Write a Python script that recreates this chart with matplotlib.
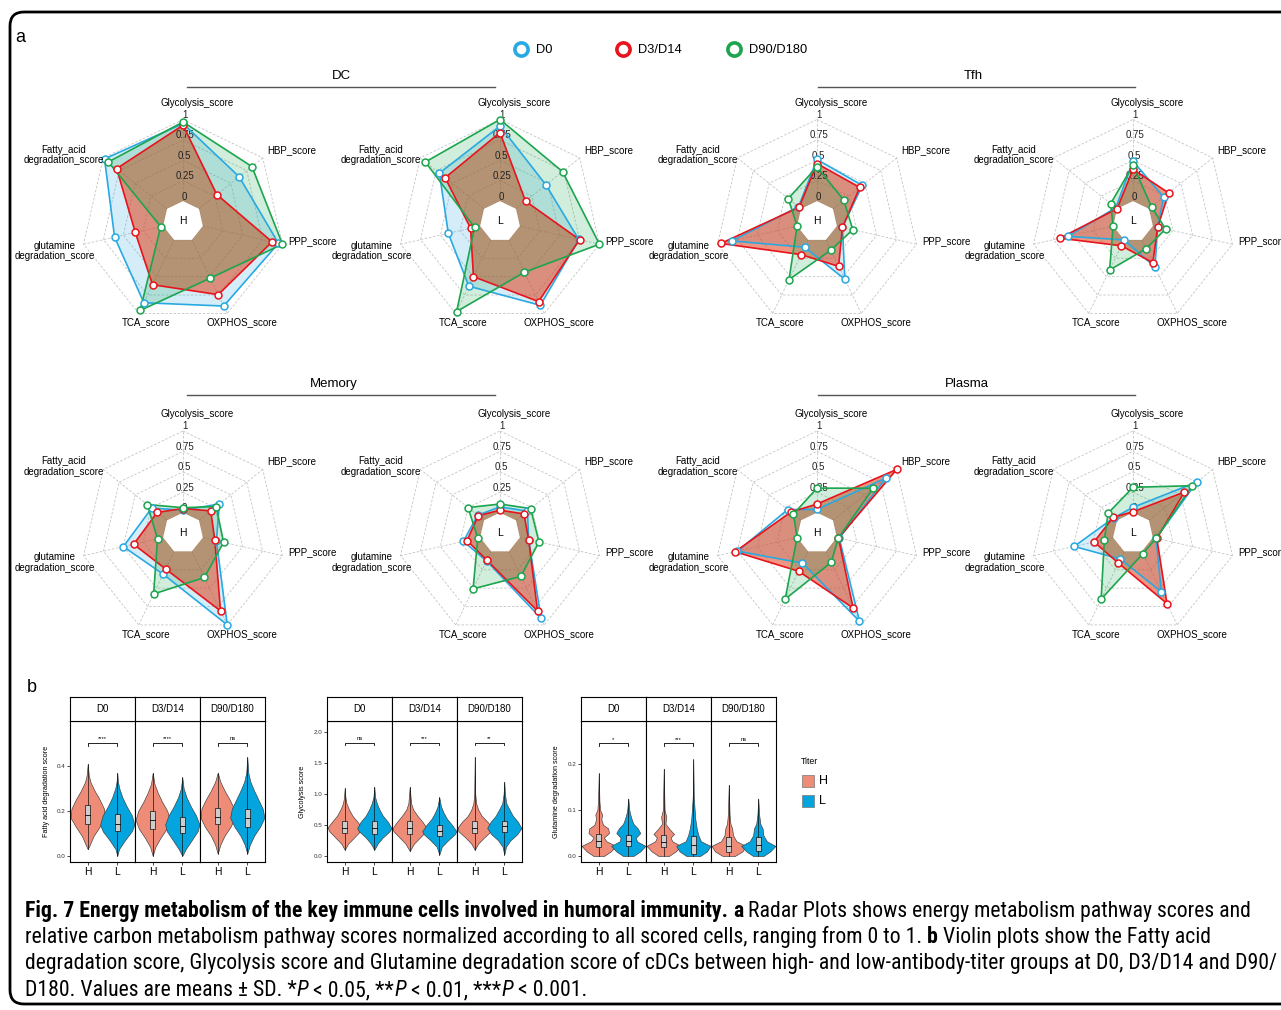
import numpy as np
import matplotlib
matplotlib.use('Agg')
import matplotlib.pyplot as plt
from matplotlib import font_manager
from matplotlib.patches import FancyBboxPatch, Rectangle

# ---------------- data ----------------
radar_labels = ['Glycolysis_score', 'HBP_score', 'PPP_score', 'OXPHOS_score',
                'TCA_score', 'glutamine\ndegradation_score', 'Fatty_acid\ndegradation_score']
series_names = ['D0', 'D3/D14', 'D90/D180']
ring_labels = ['0', '0.25', '0.5', '0.75', '1']

# order of values: Glycolysis, HBP, PPP, OXPHOS, TCA, glutamine, Fatty_acid
dc_h = [[0.95, 0.63, 0.95, 0.90, 0.855, 0.61, 0.98],
        [0.93, 0.28, 0.87, 0.745, 0.61, 0.35, 0.79],
        [0.97, 0.83, 1.00, 0.52, 0.96, 0.03, 0.92]]
dc_l = [[0.92, 0.47, 0.74, 0.89, 0.63, 0.40, 0.70],
        [0.84, 0.15, 0.75, 0.84, 0.50, 0.12, 0.61],
        [1.00, 0.73, 1.00, 0.44, 0.975, 0.07, 0.92]]
tfh_h = [[0.51, 0.46, 0.07, 0.535, 0.10, 0.82, 0.04],
         [0.46, 0.42, 0.07, 0.36, 0.20, 0.96, 0.03],
         [0.42, 0.17, 0.20, 0.14, 0.54, 0.00, 0.20]]
tfh_l = [[0.49, 0.23, 0.06, 0.37, 0.00, 0.57, 0.02],
         [0.39, 0.31, 0.06, 0.31, 0.08, 0.67, 0.00],
         [0.44, 0.04, 0.16, 0.12, 0.41, 0.00, 0.10]]
mem_h = [[0.03, 0.32, 0.17, 1.00, 0.31, 0.50, 0.24],
         [0.05, 0.185, 0.15, 0.81, 0.24, 0.37, 0.155],
         [0.06, 0.27, 0.26, 0.355, 0.58, 0.07, 0.31]]
mem_l = [[0.07, 0.18, 0.11, 0.91, 0.13, 0.21, 0.10],
         [0.03, 0.125, 0.11, 0.81, 0.12, 0.165, 0.09],
         [0.105, 0.23, 0.24, 0.34, 0.51, 0.03, 0.25]]
pla_h = [[0.04, 0.83, 0.03, 0.95, 0.16, 0.75, 0.21],
         [0.105, 1.00, 0.02, 0.77, 0.27, 0.78, 0.16],
         [0.30, 0.63, 0.02, 0.15, 0.65, 0.00, 0.12]]
pla_l = [[0.065, 0.75, 0.04, 0.55, 0.105, 0.49, 0.05],
         [0.01, 0.555, 0.05, 0.71, 0.16, 0.24, 0.06],
         [0.31, 0.68, 0.04, 0.03, 0.65, 0.11, 0.14]]

# violin panels: groups, titer levels
facet_names = ['D0', 'D3/D14', 'D90/D180']
titer = ['H', 'L']

# each violin: profile levels (score) and relative half widths; order D0-H, D0-L, D3-H, D3-L, D90-H, D90-L
fa_prof_y = [[0.03, 0.05, 0.09, 0.13, 0.17, 0.21, 0.25, 0.29, 0.33, 0.36, 0.41],
             [0.00, 0.03, 0.07, 0.11, 0.14, 0.18, 0.22, 0.26, 0.30, 0.33, 0.37],
             [0.00, 0.04, 0.08, 0.12, 0.16, 0.20, 0.24, 0.28, 0.32, 0.37],
             [0.00, 0.03, 0.07, 0.11, 0.14, 0.18, 0.22, 0.26, 0.30, 0.35],
             [0.01, 0.05, 0.09, 0.13, 0.17, 0.21, 0.25, 0.29, 0.33, 0.37],
             [0.01, 0.05, 0.09, 0.13, 0.17, 0.21, 0.25, 0.29, 0.33, 0.37, 0.44]]
fa_prof_w = [[0.0, 0.12, 0.35, 0.70, 1.0, 0.95, 0.70, 0.40, 0.15, 0.06, 0.0],
             [0.0, 0.10, 0.45, 0.85, 1.0, 0.85, 0.55, 0.30, 0.12, 0.04, 0.0],
             [0.0, 0.15, 0.45, 0.80, 1.0, 0.85, 0.55, 0.30, 0.10, 0.0],
             [0.0, 0.20, 0.55, 0.90, 1.0, 0.80, 0.50, 0.25, 0.08, 0.0],
             [0.0, 0.15, 0.40, 0.75, 1.0, 0.95, 0.70, 0.40, 0.15, 0.0],
             [0.0, 0.15, 0.40, 0.75, 1.0, 0.90, 0.65, 0.40, 0.18, 0.06, 0.0]]
# box: q1, median, q3, low, high
fa_box = [[0.14, 0.18, 0.225, 0.03, 0.41],
          [0.11, 0.14, 0.185, 0.00, 0.37],
          [0.12, 0.16, 0.20, 0.00, 0.37],
          [0.10, 0.135, 0.175, 0.00, 0.35],
          [0.14, 0.175, 0.215, 0.01, 0.37],
          [0.13, 0.17, 0.21, 0.01, 0.44]]
fa_sig = ['****', '****', 'ns']

gl_prof_y = [[0.10, 0.20, 0.30, 0.40, 0.46, 0.55, 0.65, 0.75, 0.85, 0.95, 1.10],
             [0.10, 0.20, 0.30, 0.40, 0.45, 0.55, 0.65, 0.75, 0.85, 0.95, 1.12],
             [0.08, 0.20, 0.30, 0.40, 0.45, 0.55, 0.65, 0.75, 0.85, 1.12],
             [0.02, 0.15, 0.25, 0.35, 0.40, 0.50, 0.60, 0.70, 0.80, 0.95],
             [0.10, 0.20, 0.30, 0.40, 0.46, 0.55, 0.65, 0.75, 0.85, 1.00, 1.60],
             [0.02, 0.15, 0.25, 0.35, 0.45, 0.55, 0.65, 0.75, 0.85, 1.00, 1.20]]
gl_prof_w = [[0.0, 0.20, 0.55, 0.90, 1.0, 0.75, 0.45, 0.25, 0.10, 0.04, 0.0],
             [0.0, 0.20, 0.50, 0.90, 1.0, 0.80, 0.50, 0.30, 0.15, 0.05, 0.0],
             [0.0, 0.25, 0.60, 0.95, 1.0, 0.75, 0.45, 0.20, 0.08, 0.0],
             [0.0, 0.15, 0.50, 0.90, 1.0, 0.75, 0.45, 0.25, 0.10, 0.0],
             [0.0, 0.20, 0.55, 0.95, 1.0, 0.75, 0.40, 0.20, 0.08, 0.03, 0.0],
             [0.0, 0.10, 0.35, 0.75, 1.0, 0.80, 0.50, 0.30, 0.12, 0.04, 0.0]]
gl_box = [[0.37, 0.46, 0.56, 0.10, 1.10],
          [0.35, 0.45, 0.56, 0.10, 1.12],
          [0.36, 0.45, 0.56, 0.08, 1.12],
          [0.33, 0.41, 0.50, 0.02, 0.95],
          [0.37, 0.46, 0.56, 0.10, 1.60],
          [0.38, 0.48, 0.57, 0.02, 1.20]]
gl_sig = ['ns', '***', '**']

gn_prof_y = [[0.0, 0.01, 0.022, 0.032, 0.04, 0.05, 0.06, 0.068, 0.08, 0.09, 0.10, 0.12, 0.18],
             [0.0, 0.01, 0.022, 0.032, 0.04, 0.05, 0.06, 0.07, 0.08, 0.09, 0.10, 0.125],
             [0.0, 0.01, 0.022, 0.032, 0.04, 0.048, 0.058, 0.07, 0.085, 0.10, 0.19],
             [0.0, 0.01, 0.022, 0.032, 0.045, 0.06, 0.08, 0.10, 0.13, 0.21],
             [0.0, 0.01, 0.022, 0.032, 0.045, 0.06, 0.07, 0.09, 0.155],
             [0.0, 0.01, 0.022, 0.032, 0.045, 0.06, 0.07, 0.09, 0.125]]
gn_prof_w = [[0.30, 0.70, 1.0, 0.45, 0.30, 0.60, 0.55, 0.25, 0.15, 0.20, 0.08, 0.04, 0.0],
             [0.30, 0.70, 1.0, 0.50, 0.45, 0.70, 0.55, 0.30, 0.20, 0.12, 0.06, 0.0],
             [0.30, 0.70, 1.0, 0.50, 0.40, 0.60, 0.35, 0.10, 0.15, 0.05, 0.0],
             [0.40, 0.80, 1.0, 0.45, 0.30, 0.20, 0.12, 0.08, 0.03, 0.0],
             [0.35, 0.80, 1.0, 0.45, 0.25, 0.20, 0.10, 0.05, 0.0],
             [0.30, 0.70, 1.0, 0.50, 0.30, 0.25, 0.12, 0.05, 0.0]]
gn_box = [[0.020, 0.032, 0.047, 0.0, 0.18],
          [0.022, 0.033, 0.046, 0.0, 0.125],
          [0.020, 0.030, 0.045, 0.0, 0.19],
          [0.005, 0.023, 0.043, 0.0, 0.21],
          [0.008, 0.022, 0.042, 0.0, 0.155],
          [0.010, 0.023, 0.042, 0.0, 0.125]]
gn_sig = ['*', '***', 'ns']

# ---------------- style ----------------
W, H = 1281, 1010
BLUE, RED, GREEN = '#29A9E1', '#E8141C', '#1CA54E'
series_colors = [BLUE, RED, GREEN]
fill_colors = [BLUE, '#E0401A', GREEN]
series_alpha = [0.2, 0.55, 0.2]
COL_H, COL_L = '#EF8C78', '#04A4DE'

plt.rcParams['font.family'] = ['Liberation Sans', 'DejaVu Sans']
fig = plt.figure(figsize=(W / 100, H / 100), dpi=100)

ov = fig.add_axes([0, 0, 1, 1])
ov.set_xlim(0, W)
ov.set_ylim(H, 0)
ov.axis('off')

# outer frame
ov.add_patch(FancyBboxPatch((10, 12), 1400, 992, boxstyle='round,pad=0,rounding_size=14',
                            lw=2.0, ec='black', fc='none'))
ov.text(15, 37, 'a', fontsize=13, va='center', ha='left')
ov.text(27, 688, 'b', fontsize=13, va='center', ha='left')

# legend of radar plots
for x, c, name in zip([521, 623, 734], series_colors, series_names):
    ov.plot([x], [49], marker='o', ms=9.5, mfc='white', mec=c, mew=2.6, ls='none')
    ov.text(x + 15, 50, name, fontsize=9.3, va='center', ha='left')

# group titles
for name, tx, ty, x0, x1 in [('DC', 341, 76, 187, 495), ('Tfh', 973, 76, 818, 1135),
                             ('Memory', 334, 384, 187, 495), ('Plasma', 967, 384, 818, 1135)]:
    ov.text(tx, ty, name, fontsize=9.5, ha='center', va='center')
    ov.plot([x0, x1], [ty + 11, ty + 11], color='#555555', lw=1.0)

# ---------------- radar plots ----------------
R = 102.0
n_ax = len(radar_labels)
theta = np.arange(n_ax) * 2 * np.pi / n_ax
label_off = [(0.134, 1.162), (1.07, 0.70), (1.27, -0.19), (0.575, -0.99),
             (-0.363, -0.99), (-1.255, -0.29), (-1.17, 0.65)]


def scaled_r(vals):
    return (np.asarray(vals, dtype=float) * 4 + 1) / 5


def radar(cx, cy, data, letter):
    hw, hh = 1.65, 1.32
    ax = fig.add_axes([(cx - hw * R) / W, (H - (cy + hh * R)) / H, 2 * hw * R / W, 2 * hh * R / H])
    ax.set_xlim(-hw, hw)
    ax.set_ylim(-hh, hh)
    ax.axis('off')
    sx, cy_ = np.sin(theta), np.cos(theta)
    grid_kw = dict(color='#C4C4C4', lw=0.6, ls=(0, (3, 2)), zorder=1)
    for k in range(1, 6):
        r = k / 5
        ax.plot(np.append(r * sx, r * sx[0]), np.append(r * cy_, r * cy_[0]), **grid_kw)
    for i in range(n_ax):
        ax.plot([0.2 * sx[i], sx[i]], [0.2 * cy_[i], cy_[i]], **grid_kw)
    for vals, c, a in zip(data, fill_colors, series_alpha):
        r = scaled_r(vals)
        ax.fill(r * sx, r * cy_, color=c, alpha=a, lw=0, zorder=2)
    ax.fill(0.2 * sx, 0.2 * cy_, color='white', lw=0, zorder=3)
    for k, lab in enumerate(ring_labels):
        ax.text(0.015, (k + 1) / 5 + 0.045, lab, fontsize=7, ha='center', va='center',
                color='#222222', zorder=3.5)
    for vals, c in zip(data, series_colors):
        r = scaled_r(vals)
        x, y = r * sx, r * cy_
        ax.plot(np.append(x, x[0]), np.append(y, y[0]), color=c, lw=1.2, zorder=4)
        ax.plot(x, y, ls='none', marker='o', ms=5, mfc='white', mec=c, mew=1.1, zorder=5)
    for lab, (ox, oy) in zip(radar_labels, label_off):
        ax.text(ox, oy, lab, fontsize=7, ha='center', va='center', linespacing=1.05, zorder=6)
    ax.text(0, 0, letter, fontsize=7.5, ha='center', va='center', zorder=6)


radar(183, 221.5, dc_h, 'H')
radar(500, 221.5, dc_l, 'L')
radar(817, 221.5, tfh_h, 'H')
radar(1133, 221.5, tfh_l, 'L')
radar(183, 533, mem_h, 'H')
radar(500, 533, mem_l, 'L')
radar(817, 533, pla_h, 'H')
radar(1133, 533, pla_l, 'L')

# ---------------- violin panels ----------------
FACET_W = 65
TOP_STRIP, TOP_PANEL, BOT_PANEL = 697, 721, 862


def violin_panel(left, ylim, yticks, yticklabels, ylabel, ylabel_x, prof_y, prof_w, boxes, sig, sig_y):
    yr = ylim[1] - ylim[0]
    for i, fname in enumerate(facet_names):
        x0 = left + i * FACET_W
        ax = fig.add_axes([x0 / W, (H - BOT_PANEL) / H, FACET_W / W, (BOT_PANEL - TOP_PANEL) / H])
        sax = fig.add_axes([x0 / W, (H - TOP_PANEL) / H, FACET_W / W, (TOP_PANEL - TOP_STRIP) / H])
        sax.set_xticks([])
        sax.set_yticks([])
        for s in sax.spines.values():
            s.set_linewidth(0.8)
        sax.text(0.5, 0.5, fname, fontsize=7, ha='center', va='center', transform=sax.transAxes)
        for j, col in enumerate([COL_H, COL_L]):
            k = 2 * i + j
            pos = j + 1
            y = np.array(prof_y[k])
            w = np.array(prof_w[k]) * 0.58
            ax.fill_betweenx(y, pos - w, pos + w, facecolor=col, edgecolor='#3a3a3a', lw=0.45, zorder=2)
            q1, med, q3, lo, hi = boxes[k]
            ax.plot([pos, pos], [lo, hi], color='black', lw=0.45, zorder=3)
            ax.add_patch(Rectangle((pos - 0.08, q1), 0.16, q3 - q1, facecolor='#CDCDCD',
                                   edgecolor='black', lw=0.45, zorder=4))
            ax.plot([pos - 0.08, pos + 0.08], [med, med], color='black', lw=0.6, zorder=5)
        d = yr * 0.02
        ax.plot([1, 1, 2, 2], [sig_y - d, sig_y, sig_y, sig_y - d], color='black', lw=0.6)
        ax.text(1.5, sig_y + yr * 0.012, sig[i], fontsize=4.2, ha='center', va='bottom')
        ax.set_xlim(0.4, 2.6)
        ax.set_ylim(*ylim)
        ax.set_xticks([1, 2])
        ax.set_xticklabels(titer, fontsize=7.5)
        ax.tick_params(axis='x', length=2, width=0.5, pad=1.5)
        if i == 0:
            ax.set_yticks(yticks)
            ax.set_yticklabels(yticklabels, fontsize=4.5, color='#333333')
            ax.tick_params(axis='y', length=2, width=0.5, pad=1.5)
        else:
            ax.set_yticks([])
        for s in ax.spines.values():
            s.set_linewidth(0.8)
    ov.text(ylabel_x, (TOP_PANEL + BOT_PANEL) / 2, ylabel, rotation=90, fontsize=5.2,
            ha='center', va='center')


violin_panel(70, (-0.027, 0.6), [0, 0.2, 0.4], ['0.0', '0.2', '0.4'],
             'Fatty acid degradation score', 46, fa_prof_y, fa_prof_w, fa_box, fa_sig, 0.503)
violin_panel(327, (-0.097, 2.18), [0, 0.5, 1.0, 1.5, 2.0], ['0.0', '0.5', '1.0', '1.5', '2.0'],
             'Glycolysis score', 303, gl_prof_y, gl_prof_w, gl_box, gl_sig, 1.83)
violin_panel(581, (-0.013, 0.2935), [0, 0.1, 0.2], ['0.0', '0.1', '0.2'],
             'Glutamine degradation score', 556, gn_prof_y, gn_prof_w, gn_box, gn_sig, 0.245)

# titer legend
ov.text(801, 762, 'Titer', fontsize=6.3, ha='left', va='center')
ov.add_patch(Rectangle((802, 775), 12, 12, facecolor=COL_H, edgecolor='#777777', lw=0.5))
ov.add_patch(Rectangle((802, 795), 12, 12, facecolor=COL_L, edgecolor='#777777', lw=0.5))
ov.text(819, 781, 'H', fontsize=9, ha='left', va='center')
ov.text(819, 801, 'L', fontsize=9, ha='left', va='center')

# ---------------- caption ----------------
cap_family = 'Liberation Sans'
cap_stretch = 'normal'
entries = font_manager.fontManager.ttflist
names = {f.name for f in entries}
for cand in ['Liberation Sans Narrow', 'Roboto Condensed', 'Open Sans Condensed',
             'Noto Sans Condensed', 'DejaVu Sans Condensed']:
    if cand in names:
        cap_family = cand
        break
else:
    for fam in ['Open Sans', 'Noto Sans', 'Roboto', 'DejaVu Sans']:
        cond = [f for f in entries if f.name == fam and str(f.stretch) in
                ('condensed', 'semi-condensed', '87.5', '75')]
        if cond:
            cap_family = fam
            cap_stretch = 'condensed' if any(str(f.stretch) in ('condensed', '75') for f in cond) \
                else 'semi-condensed'
            break
cap_kw = dict(family=cap_family, fontstretch=cap_stretch)
renderer = fig.canvas.get_renderer()


def seg_width(s, fs, weight, style):
    t1 = ov.text(0, 0, '|' + s + '|', fontsize=fs, weight=weight, style=style, **cap_kw)
    t2 = ov.text(0, 0, '||', fontsize=fs, weight=weight, style=style, **cap_kw)
    w = t1.get_window_extent(renderer).width - t2.get_window_extent(renderer).width
    t1.remove()
    t2.remove()
    return w


cap_lines = [
    [('Fig. 7 Energy metabolism of the key immune cells involved in humoral immunity.', 'bold', 'normal'),
     (' ', 'normal', 'normal'), ('a', 'bold', 'normal'),
     (' Radar Plots shows energy metabolism pathway scores and', 'normal', 'normal')],
    [('relative carbon metabolism pathway scores normalized according to all scored cells, ranging from 0 to 1. ',
      'normal', 'normal'), ('b', 'bold', 'normal'),
     (' Violin plots show the Fatty acid', 'normal', 'normal')],
    [('degradation score, Glycolysis score and Glutamine degradation score of cDCs between high- and '
      'low-antibody-titer groups at D0, D3/D14 and D90/', 'normal', 'normal')],
    [('D180. Values are means \u00b1 SD. *', 'normal', 'normal'), ('P', 'normal', 'italic'),
     (' < 0.05, **', 'normal', 'normal'), ('P', 'normal', 'italic'),
     (' < 0.01, ***', 'normal', 'normal'), ('P', 'normal', 'italic'),
     (' < 0.001.', 'normal', 'normal')],
]
cap_targets = [1253.0, 1207.0, 1253.0]
base_fs = 10.0
fits = []
for line, target in zip(cap_lines[:3], cap_targets):
    wl = sum(seg_width(s, base_fs, wt, st) for s, wt, st in line)
    fits.append(base_fs * target / wl)
cap_fs = min(min(fits), 16.5)
for li, (line, yb) in enumerate(zip(cap_lines, [917, 943, 969, 996])):
    x = 25.0
    for s, wt, st in line:
        ov.text(x, yb, s, fontsize=cap_fs, weight=wt, style=st, ha='left', va='baseline', **cap_kw)
        x += seg_width(s, cap_fs, wt, st)

fig.savefig('out.png', dpi=100)
